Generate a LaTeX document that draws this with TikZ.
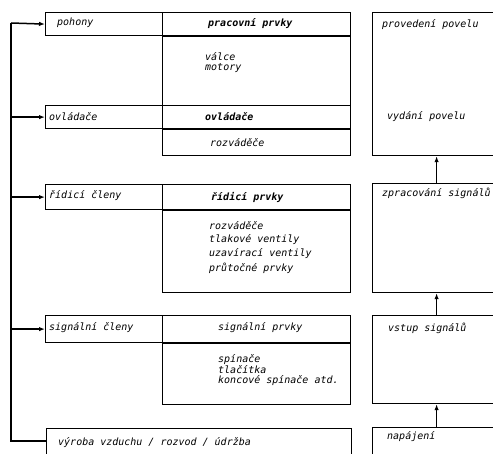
\documentclass[tikz,border=0pt]{standalone}
\usepackage{fontspec}
\newfontfamily\diafont{DejaVu Sans Mono}
\usetikzlibrary{arrows.meta}
\begin{document}
\begin{tikzpicture}[x=1pt,y=-1pt,
  frame/.style={draw, line width=1.2pt, inner sep=0pt, anchor=north west},
  sep/.style={line width=1.8pt},
  lbl/.style={anchor=west, inner sep=0pt, font=\diafont\itshape\fontsize{10}{12}\selectfont},
  hdr/.style={lbl, font=\diafont\bfseries\itshape\fontsize{10}{12}\selectfont},
  trunk/.style={line width=1.5pt},
  feed/.style={line width=1.5pt, -{Latex[length=6pt,width=4.5pt]}},
]
\useasboundingbox (0,0) rectangle (493,454);
\clip (0,0) rectangle (493,454);

% left column: element groups
\node[frame, minimum width=117pt, minimum height=23pt] (poh) at (45,12) {};
\node[frame, minimum width=117pt, minimum height=23pt] (ovl) at (45,105) {};
\node[frame, minimum width=117pt, minimum height=25pt] (rid) at (45,184) {};
\node[frame, minimum width=117pt, minimum height=27pt] (sig) at (45,315) {};
\node[frame, minimum width=305pt, minimum height=50pt] (vyr) at (46,428) {};

% middle column: headers and their lists
\node[frame, minimum width=188pt, minimum height=23pt] (hpra) at (162,12) {};
\node[frame, minimum width=188pt, minimum height=70pt] (bpra) at (162,35) {};
\node[frame, minimum width=188pt, minimum height=23pt] (hovl) at (162,105) {};
\node[frame, minimum width=188pt, minimum height=27pt] (bovl) at (162,128) {};
\node[frame, minimum width=188pt, minimum height=25pt] (hrid) at (162,184) {};
\node[frame, minimum width=188pt, minimum height=83pt] (brid) at (162,209) {};
\node[frame, minimum width=188pt, minimum height=27pt] (hsig) at (162,315) {};
\node[frame, minimum width=188pt, minimum height=62pt] (bsig) at (162,342) {};

\foreach \h in {hpra,hovl,hrid,hsig}
  \draw[sep] (\h.south west) -- (\h.south east);

% right column: signal flow
\node[frame, minimum width=128pt, minimum height=143pt] (prov) at (372,12) {};
\node[frame, minimum width=128pt, minimum height=109pt] (zpr) at (372,183) {};
\node[frame, minimum width=128pt, minimum height=88pt] (vst) at (372,315) {};
\node[frame, minimum width=128pt, minimum height=50pt] (nap) at (372,427) {};

\draw[feed] (zpr.north) -- (prov.south);
\draw[feed] (vst.north) -- (zpr.south);
\draw[feed] (nap.north) -- (vst.south);

% supply trunk on the left
\coordinate (ttop) at (11,23);
\coordinate (tbot) at (11,441);
\draw[trunk] (ttop) -- (tbot) -- (tbot -| vyr.west);
\draw[feed] (ttop) -- (poh.west);
\draw[feed] (ovl.west -| ttop) -- (ovl.west);
\draw[feed] (rid.west -| ttop) -- (rid.west);
\draw[feed] (sig.west -| ttop) -- (sig.west);

% texts, left column
\node[lbl] (t1) at (57,23) {pohony};
\node[lbl] (t2) at (49,117) {ovládače};
\node[lbl] (t3) at (49,196) {řídicí členy};
\node[lbl] (t4) at (49,328) {signální členy};
\node[lbl] (t5) at (58,443) {výroba vzduchu / rozvod / údržba};

% texts, middle column
\node[hdr] (m1) at (208,24) {pracovní prvky};
\node[lbl] (m2) at (205,57) {válce};
\node[lbl] (m3) at (205,68) {motory};
\node[hdr] (m4) at (205,117) {ovládače};
\node[lbl] (m5) at (210,143) {rozváděče};
\node[hdr] (m6) at (211,197) {řídicí prvky};
\node[lbl] (m7) at (209,226) {rozváděče};
\node[lbl] (m8) at (209,240) {tlakové ventily};
\node[lbl] (m9) at (209,254) {uzavírací ventily};
\node[lbl] (m10) at (209,268) {průtočné prvky};
\node[lbl] (m11) at (218,328) {signální prvky};
\node[lbl] (m12) at (218,360) {spínače};
\node[lbl] (m13) at (218,370) {tlačítka};
\node[lbl] (m14) at (218,381) {koncové spínače atd.};

% texts, right column
\node[lbl] (r1) at (382,25) {provedení povelu};
\node[lbl] (r2) at (387,117) {vydání povelu};
\node[lbl] (r3) at (382,193) {zpracování signálů};
\node[lbl] (r4) at (388,328) {vstup signálů};
\node[lbl] (r5) at (387,437) {napájení};
\end{tikzpicture}
\end{document}
